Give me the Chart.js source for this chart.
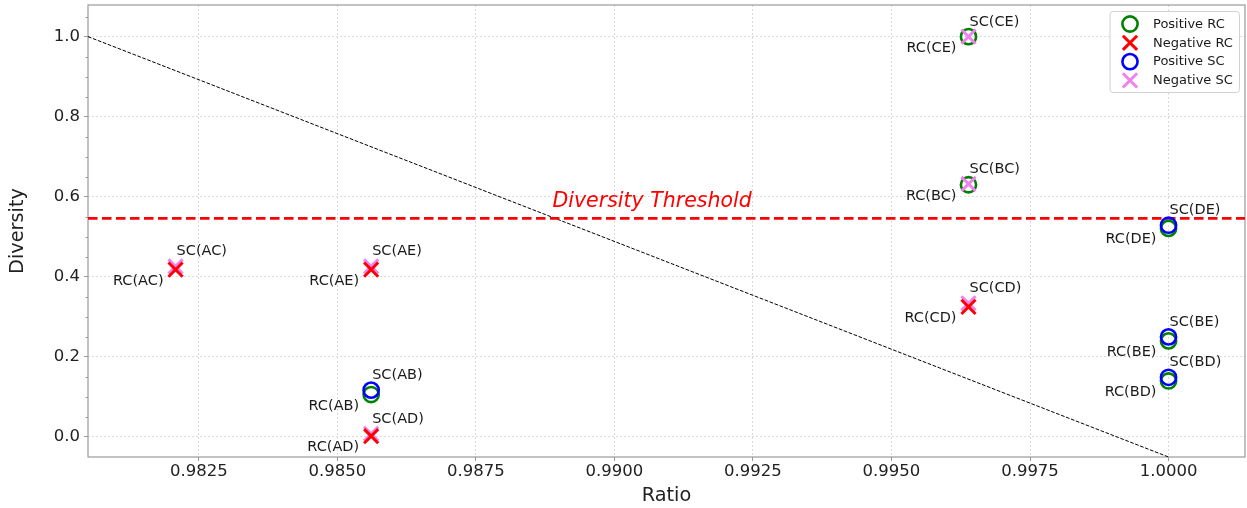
<!DOCTYPE html>
<html>
<head>
<meta charset="utf-8">
<title>Ratio vs Diversity</title>
<script src="https://cdn.jsdelivr.net/npm/chart.js@4.4.0/dist/chart.umd.min.js"></script>
<style>
  html, body { margin: 0; padding: 0; background: #fff; }
  #wrap { width: 1247px; height: 508px; }
</style>
</head>
<body>
<div id="wrap"><canvas id="myChart" width="1247" height="508"></canvas></div>

<script>
    // pairs and their values
    const pairs = ["AC", "AE", "AB", "AD", "CE", "BC", "CD", "DE", "BE", "BD"];
    const ratio = [0.98208, 0.98561, 0.98561, 0.98561, 0.99639, 0.99639, 0.99639, 1.0, 1.0, 1.0];
    const rcDiversity = [0.418, 0.418, 0.106, 0.002, 1.0, 0.630, 0.325, 0.521, 0.240, 0.140];
    const scDiversity = [0.426, 0.426, 0.117, 0.008, 1.0, 0.632, 0.334, 0.529, 0.250, 0.149];
    const rcPositive = [false, false, true, false, true, true, false, true, true, true];
    const scPositive = [false, false, true, false, false, false, false, true, true, true];

    const threshold = 0.546;
    const xTicks = [0.9825, 0.9850, 0.9875, 0.9900, 0.9925, 0.9950, 0.9975, 1.0000];
    const yTicks = [0.0, 0.2, 0.4, 0.6, 0.8, 1.0];
    const xRange = [0.9805, 1.00138];
    const yRange = [-0.05, 1.079];

    const legendItems = [
        { label: "Positive RC", color: "#008000", style: "circle" },
        { label: "Negative RC", color: "#ff0000", style: "cross" },
        { label: "Positive SC", color: "#0000ff", style: "circle" },
        { label: "Negative SC", color: "#ee82ee", style: "cross" }
    ];

    const FONT = "'DejaVu Sans', sans-serif";

    function pick(values, flags, want) {
        const out = [];
        values.forEach(function(v, i) {
            if (flags[i] === want) out.push({ x: ratio[i], y: v });
        });
        return out;
    }

    function markerSet(label, data, color, style) {
        const circle = style === "circle";
        return {
            label: label,
            data: data,
            showLine: false,
            pointStyle: circle ? "circle" : "crossRot",
            pointRadius: circle ? 7.6 : 10,
            pointHoverRadius: circle ? 7.6 : 10,
            borderColor: color,
            backgroundColor: "rgba(0,0,0,0)",
            pointBorderWidth: circle ? 2.6 : 3,
            borderWidth: circle ? 2.6 : 3
        };
    }

    // draw a marker for the legend box
    function drawMarker(ctx, x, y, color, style) {
        ctx.save();
        ctx.strokeStyle = color;
        ctx.beginPath();
        if (style === "circle") {
            ctx.lineWidth = 2.6;
            ctx.arc(x, y, 7.6, 0, Math.PI * 2);
        } else {
            ctx.lineWidth = 3;
            const d = 7.1;
            ctx.moveTo(x - d, y - d); ctx.lineTo(x + d, y + d);
            ctx.moveTo(x + d, y - d); ctx.lineTo(x - d, y + d);
        }
        ctx.stroke();
        ctx.restore();
    }

    // tick labels must not push the plot frame around
    function noPad(s) {
        s.paddingTop = 0; s.paddingBottom = 0;
        s.paddingLeft = 0; s.paddingRight = 0;
    }

    const extrasPlugin = {
        id: "extras",
        beforeDatasetsDraw: function(chart) {
            const ctx = chart.ctx;
            const a = chart.chartArea;
            const ys = chart.scales.y;
            ctx.save();
            // minor ticks on y axis
            ctx.strokeStyle = "#999";
            ctx.lineWidth = 1;
            for (let k = -1; k <= 21; k++) {
                if (k % 4 === 0) continue;
                const py = Math.round(ys.getPixelForValue(k * 0.05)) + 0.5;
                if (py < a.top || py > a.bottom) continue;
                ctx.beginPath();
                ctx.moveTo(a.left - 2.5, py);
                ctx.lineTo(a.left, py);
                ctx.stroke();
            }
            // frame
            ctx.strokeStyle = "#9a9a9a";
            ctx.lineWidth = 1.2;
            ctx.strokeRect(a.left, a.top, a.right - a.left, a.bottom - a.top);
            ctx.restore();
        },
        afterDatasetsDraw: function(chart) {
            const ctx = chart.ctx;
            const xs = chart.scales.x;
            const ys = chart.scales.y;
            ctx.save();
            ctx.font = "14.5px " + FONT;
            ctx.fillStyle = "#1a1a1a";
            ctx.textBaseline = "alphabetic";
            pairs.forEach(function(p, i) {
                const px = xs.getPixelForValue(ratio[i]);
                ctx.textAlign = "left";
                ctx.fillText("SC(" + p + ")", px + 1, ys.getPixelForValue(scDiversity[i]) - 11);
                ctx.textAlign = "right";
                ctx.fillText("RC(" + p + ")", px - 12, ys.getPixelForValue(rcDiversity[i]) + 15);
            });

            // threshold caption
            ctx.font = "italic 20.5px " + FONT;
            ctx.fillStyle = "#ff0000";
            ctx.textAlign = "center";
            ctx.fillText("Diversity Threshold", xs.getPixelForValue(0.99068), ys.getPixelForValue(threshold) - 11);

            // legend box
            const a = chart.chartArea;
            const bx = a.right - 135, by = a.top + 6.5, bw = 129.5, bh = 81;
            ctx.fillStyle = "rgba(255,255,255,0.85)";
            ctx.strokeStyle = "#d0d0d0";
            ctx.lineWidth = 1;
            ctx.beginPath();
            if (ctx.roundRect) ctx.roundRect(bx, by, bw, bh, 3);
            else ctx.rect(bx, by, bw, bh);
            ctx.fill();
            ctx.stroke();
            ctx.font = "13px " + FONT;
            ctx.fillStyle = "#1a1a1a";
            ctx.textAlign = "left";
            ctx.textBaseline = "middle";
            legendItems.forEach(function(it, k) {
                const cy = by + 12.5 + k * 18.8;
                drawMarker(ctx, bx + 20, cy, it.color, it.style);
                ctx.fillText(it.label, bx + 43, cy + 0.5);
            });
            ctx.restore();
        }
    };

    const datasets = [
        markerSet("Negative RC", pick(rcDiversity, rcPositive, false), "#ff0000", "cross"),
        markerSet("Negative SC", pick(scDiversity, scPositive, false), "#ee82ee", "cross"),
        markerSet("Positive SC", pick(scDiversity, scPositive, true), "#0000ff", "circle"),
        markerSet("Positive RC", pick(rcDiversity, rcPositive, true), "#008000", "circle"),
        {
            label: "Threshold",
            data: [{ x: xRange[0], y: threshold }, { x: xRange[1], y: threshold }],
            showLine: true,
            pointRadius: 0,
            borderColor: "#ff0000",
            borderWidth: 2.6,
            borderDash: [9.5, 4.5]
        },
        {
            label: "Trade-off",
            data: [{ x: xRange[0], y: 1.0 }, { x: 1.0, y: yRange[0] }],
            showLine: true,
            pointRadius: 0,
            borderColor: "#000000",
            borderWidth: 1,
            borderDash: [3.7, 1.6]
        }
    ];

    new Chart("myChart", {
        type: "scatter",
        data: { datasets: datasets },
        plugins: [extrasPlugin],
        options: {
            responsive: false,
            animation: false,
            devicePixelRatio: 1,
            layout: { autoPadding: false, padding: { left: 0, right: 2, top: 5, bottom: 0 } },
            plugins: {
                legend: { display: false },
                tooltip: { enabled: false }
            },
            scales: {
                x: {
                    type: "linear",
                    min: xRange[0],
                    max: xRange[1],
                    afterBuildTicks: function(s) { s.ticks = xTicks.map(function(v) { return { value: v }; }); },
                    afterFit: function(s) { s.height = 51; noPad(s); },
                    ticks: {
                        padding: 1,
                        color: "#222",
                        font: { family: FONT, size: 16.5 },
                        maxRotation: 0,
                        callback: function(v) { return Number(v).toFixed(4); }
                    },
                    grid: { color: "#d3d3d3", lineWidth: 0.8, tickColor: "#999", tickLength: 4, tickWidth: 1 },
                    border: { display: false, dash: [2, 2] },
                    title: {
                        display: true,
                        text: "Ratio",
                        color: "#222",
                        font: { family: FONT, size: 19.3 },
                        padding: { top: 0, bottom: 0 }
                    }
                },
                y: {
                    type: "linear",
                    min: yRange[0],
                    max: yRange[1],
                    afterBuildTicks: function(s) { s.ticks = yTicks.map(function(v) { return { value: v }; }); },
                    afterFit: function(s) { s.width = 88; noPad(s); },
                    ticks: {
                        padding: 4,
                        color: "#222",
                        font: { family: FONT, size: 16.5 },
                        callback: function(v) { return Number(v).toFixed(1); }
                    },
                    grid: { color: "#d3d3d3", lineWidth: 0.8, tickColor: "#999", tickLength: 4, tickWidth: 1 },
                    border: { display: false, dash: [2, 2] },
                    title: {
                        display: true,
                        text: "Diversity",
                        color: "#222",
                        font: { family: FONT, size: 19.3 },
                        padding: { top: 6, bottom: 0 }
                    }
                }
            }
        }
    });
</script>
</body>
</html>
